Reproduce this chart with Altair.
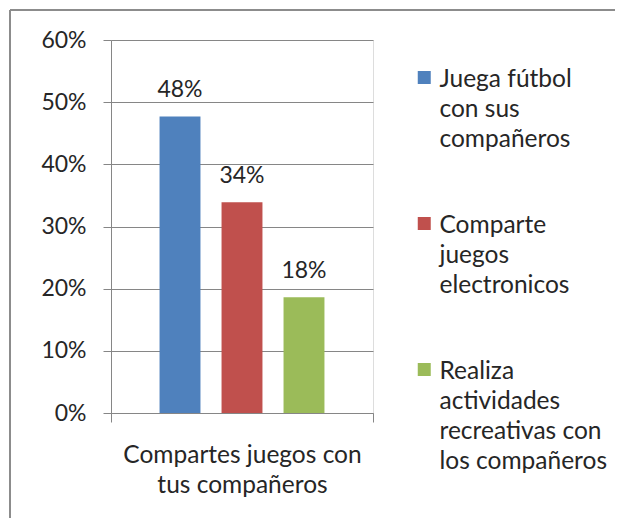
import altair as alt
import pandas as pd

# ---- data ----
category = "Compartes juegos con|tus compañeros"
series = [
    "Juega fútbol|con sus|compañeros",
    "Comparte|juegos|electronicos",
    "Realiza|actividades|recreativas con|los compañeros",
]
values = [0.477, 0.339, 0.186]
value_labels = ["48%", "34%", "18%"]
colors = ["#4F81BD", "#C0504D", "#9BBB59"]
y_ticks = [0, 0.1, 0.2, 0.3, 0.4, 0.5, 0.6]

df = pd.DataFrame({
    "cat": [category] * len(series),
    "serie": series,
    "valor": values,
    "etiqueta": value_labels,
})

FONT = "Lato"
TXT = "#262626"
GRAY = "#868686"

base = alt.Chart(df).encode(
    x=alt.X(
        "cat:N",
        scale=alt.Scale(paddingInner=0, paddingOuter=0),
        axis=alt.Axis(
            title=None, labelExpr="split(datum.label, '|')", labelAngle=0,
            labelBaseline="top", labelAlign="center", labelPadding=21,
            tickBand="extent", tickSize=9, tickColor=GRAY, domainColor=GRAY,
            labelFont=FONT, labelFontSize=24.5, labelColor=TXT, grid=False,
            labelLimit=400,
        ),
    ),
    xOffset=alt.XOffset("serie:N", sort=series,
                        scale=alt.Scale(paddingInner=0.34, paddingOuter=0.783)),
    y=alt.Y(
        "valor:Q",
        scale=alt.Scale(domain=[0, 0.6], nice=False),
        axis=alt.Axis(
            title=None, format=".0%", values=y_ticks, tickSize=8, tickColor=GRAY,
            domainColor=GRAY, gridColor=GRAY, labelPadding=17, labelFont=FONT,
            labelFontSize=23, labelColor=TXT,
        ),
    ),
)

bars = base.mark_bar().encode(
    color=alt.Color(
        "serie:N", sort=series,
        scale=alt.Scale(domain=series, range=colors),
        legend=alt.Legend(
            title=None, orient="none", legendX=301, legendY=16,
            labelExpr="split(datum.label, '|')", labelFont=FONT, labelFontSize=24.5,
            labelColor=TXT, labelBaseline="top", labelLimit=400, labelOffset=3,
            symbolType="M-1,0.42H1V2.42H-1Z", symbolSize=169, symbolStrokeWidth=0,
            symbolOpacity=1, rowPadding=50,
        ),
    )
)

labels = base.mark_text(baseline="alphabetic", dy=-19, font=FONT, fontSize=23,
                        color=TXT).encode(text="etiqueta:N")

frame_top = alt.Chart(alt.Data(values=[{}])).mark_rule(color="#8c8c8c", strokeWidth=2).encode(
    x=alt.value(-101), x2=alt.value(504), y=alt.value(-30))
frame_left = alt.Chart(alt.Data(values=[{}])).mark_rule(color="#8c8c8c", strokeWidth=2).encode(
    x=alt.value(-101), y=alt.value(-30), y2=alt.value(478))

chart = alt.layer(frame_top, frame_left, bars, labels).properties(
    width=262, height=373,
    autosize=alt.AutoSizeParams(type="none"),
    padding={"left": 103, "top": 32, "right": 242, "bottom": 105},
).configure_view(stroke=None).configure(
    style={"guide-label": {"lineHeight": 30}}, background="white"
)

chart.save("out.html", embed_options={"renderer": "svg", "actions": False})
